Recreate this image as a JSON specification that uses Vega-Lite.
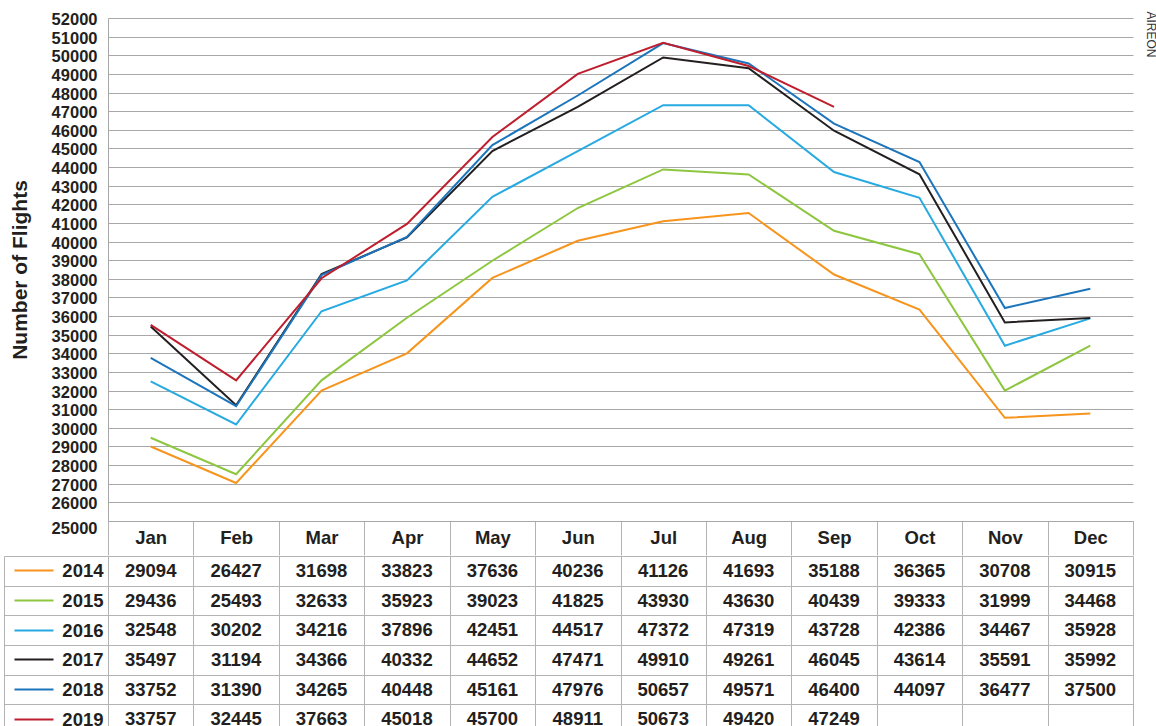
{
  "$schema": "https://vega.github.io/schema/vega-lite/v6.json",
  "padding": {"left": 3, "top": 11, "right": 0, "bottom": 0},
  "spacing": -10,
  "config": {"view": {"stroke": null}, "font": "Liberation Sans"},
  "datasets": {
    "flights": [
      {"year": "2014", "month": "Jan", "flights": 29094, "plotted": 29000},
      {"year": "2014", "month": "Feb", "flights": 26427, "plotted": 27040},
      {"year": "2014", "month": "Mar", "flights": 31698, "plotted": 32000},
      {"year": "2014", "month": "Apr", "flights": 33823, "plotted": 34000},
      {"year": "2014", "month": "May", "flights": 37636, "plotted": 38050},
      {"year": "2014", "month": "Jun", "flights": 40236, "plotted": 40040},
      {"year": "2014", "month": "Jul", "flights": 41126, "plotted": 41090},
      {"year": "2014", "month": "Aug", "flights": 41693, "plotted": 41530},
      {"year": "2014", "month": "Sep", "flights": 35188, "plotted": 38230},
      {"year": "2014", "month": "Oct", "flights": 36365, "plotted": 36350},
      {"year": "2014", "month": "Nov", "flights": 30708, "plotted": 30540},
      {"year": "2014", "month": "Dec", "flights": 30915, "plotted": 30770},
      {"year": "2015", "month": "Jan", "flights": 29436, "plotted": 29470},
      {"year": "2015", "month": "Feb", "flights": 25493, "plotted": 27510},
      {"year": "2015", "month": "Mar", "flights": 32633, "plotted": 32550},
      {"year": "2015", "month": "Apr", "flights": 35923, "plotted": 35910},
      {"year": "2015", "month": "May", "flights": 39023, "plotted": 38970},
      {"year": "2015", "month": "Jun", "flights": 41825, "plotted": 41800},
      {"year": "2015", "month": "Jul", "flights": 43930, "plotted": 43870},
      {"year": "2015", "month": "Aug", "flights": 43630, "plotted": 43600},
      {"year": "2015", "month": "Sep", "flights": 40439, "plotted": 40580},
      {"year": "2015", "month": "Oct", "flights": 39333, "plotted": 39320},
      {"year": "2015", "month": "Nov", "flights": 31999, "plotted": 32000},
      {"year": "2015", "month": "Dec", "flights": 34468, "plotted": 34410},
      {"year": "2016", "month": "Jan", "flights": 32548, "plotted": 32490},
      {"year": "2016", "month": "Feb", "flights": 30202, "plotted": 30180},
      {"year": "2016", "month": "Mar", "flights": 34216, "plotted": 36260},
      {"year": "2016", "month": "Apr", "flights": 37896, "plotted": 37910},
      {"year": "2016", "month": "May", "flights": 42451, "plotted": 42400},
      {"year": "2016", "month": "Jun", "flights": 44517, "plotted": 44850},
      {"year": "2016", "month": "Jul", "flights": 47372, "plotted": 47320},
      {"year": "2016", "month": "Aug", "flights": 47319, "plotted": 47320},
      {"year": "2016", "month": "Sep", "flights": 43728, "plotted": 43730},
      {"year": "2016", "month": "Oct", "flights": 42386, "plotted": 42350},
      {"year": "2016", "month": "Nov", "flights": 34467, "plotted": 34410},
      {"year": "2016", "month": "Dec", "flights": 35928, "plotted": 35875},
      {"year": "2017", "month": "Jan", "flights": 35497, "plotted": 35440},
      {"year": "2017", "month": "Feb", "flights": 31194, "plotted": 31210},
      {"year": "2017", "month": "Mar", "flights": 34366, "plotted": 38260},
      {"year": "2017", "month": "Apr", "flights": 40332, "plotted": 40220},
      {"year": "2017", "month": "May", "flights": 44652, "plotted": 44860},
      {"year": "2017", "month": "Jun", "flights": 47471, "plotted": 47230},
      {"year": "2017", "month": "Jul", "flights": 49910, "plotted": 49880},
      {"year": "2017", "month": "Aug", "flights": 49261, "plotted": 49300},
      {"year": "2017", "month": "Sep", "flights": 46045, "plotted": 45950},
      {"year": "2017", "month": "Oct", "flights": 43614, "plotted": 43610},
      {"year": "2017", "month": "Nov", "flights": 35591, "plotted": 35660},
      {"year": "2017", "month": "Dec", "flights": 35992, "plotted": 35890},
      {"year": "2018", "month": "Jan", "flights": 33752, "plotted": 33750},
      {"year": "2018", "month": "Feb", "flights": 31390, "plotted": 31160},
      {"year": "2018", "month": "Mar", "flights": 34265, "plotted": 38200},
      {"year": "2018", "month": "Apr", "flights": 40448, "plotted": 40250},
      {"year": "2018", "month": "May", "flights": 45161, "plotted": 45180},
      {"year": "2018", "month": "Jun", "flights": 47976, "plotted": 47840},
      {"year": "2018", "month": "Jul", "flights": 50657, "plotted": 50650},
      {"year": "2018", "month": "Aug", "flights": 49571, "plotted": 49560},
      {"year": "2018", "month": "Sep", "flights": 46400, "plotted": 46330},
      {"year": "2018", "month": "Oct", "flights": 44097, "plotted": 44270},
      {"year": "2018", "month": "Nov", "flights": 36477, "plotted": 36430},
      {"year": "2018", "month": "Dec", "flights": 37500, "plotted": 37470},
      {"year": "2019", "month": "Jan", "flights": 33757, "plotted": 35530},
      {"year": "2019", "month": "Feb", "flights": 32445, "plotted": 32550},
      {"year": "2019", "month": "Mar", "flights": 37663, "plotted": 38030},
      {"year": "2019", "month": "Apr", "flights": 45018, "plotted": 40950},
      {"year": "2019", "month": "May", "flights": 45700, "plotted": 45610},
      {"year": "2019", "month": "Jun", "flights": 48911, "plotted": 49000},
      {"year": "2019", "month": "Jul", "flights": 50673, "plotted": 50670},
      {"year": "2019", "month": "Aug", "flights": 49420, "plotted": 49420},
      {"year": "2019", "month": "Sep", "flights": 47249, "plotted": 47230}
    ]
  },
  "vconcat": [
    {
      "width": 1025,
      "height": 503,
      "data": {"name": "flights"},
      "title": {"text": "AIREON", "orient": "right", "anchor": "start", "fontSize": 12, "fontWeight": "normal", "font": "Liberation Sans", "color": "#333333", "offset": 10},
      "mark": {"type": "line", "strokeWidth": 2},
      "encoding": {
        "x": {
          "field": "month", "type": "nominal",
          "scale": {"type": "band", "domain": ["Jan","Feb","Mar","Apr","May","Jun","Jul","Aug","Sep","Oct","Nov","Dec"], "paddingInner": 0, "paddingOuter": 0},
          "axis": {"orient": "bottom", "title": null, "domain": true, "domainColor": "#a8a8a8", "grid": false, "ticks": true, "tickBand": "extent", "tickSize": 34, "tickColor": "#b3b3b3", "labelFontSize": 18.5, "labelFontWeight": "bold", "labelColor": "#231f20", "labelPadding": -27, "labelBaseline": "top", "labelAngle": 0}
        },
        "y": {
          "field": "plotted", "type": "quantitative",
          "scale": {"domain": [25000, 52000], "nice": false, "zero": false},
          "axis": {
            "title": "Number of Flights", "titleFontSize": 21, "titleFontWeight": "bold", "titleColor": "#231f20", "titleX": -82, "titleBaseline": "alphabetic",
            "values": [25000,26000,27000,28000,29000,30000,31000,32000,33000,34000,35000,36000,37000,38000,39000,40000,41000,42000,43000,44000,45000,46000,47000,48000,49000,50000,51000,52000],
            "format": "d", "grid": true, "gridColor": "#a8a8a8", "gridWidth": 1, "domain": true, "domainColor": "#a8a8a8",
            "ticks": false, "tickSize": 0, "labelPadding": 11, "labelFontSize": 16.5, "labelFontWeight": "bold", "labelColor": "#231f20",
            "labelOverlap": false, "labelFlush": false,
            "labelOffset": {"condition": {"test": "datum.value == 25000", "value": 7}, "value": 1.5}
          }
        },
        "color": {
          "field": "year", "type": "nominal",
          "scale": {"domain": ["2014","2015","2016","2017","2018","2019"], "range": ["#f7941d","#8dc63f","#27aae1","#231f20","#1c75bc","#be1e2d"]},
          "legend": null
        }
      }
    },
    {
      "width": 1025,
      "height": 178,
      "data": {"name": "flights"},
      "encoding": {
        "x": {
          "field": "month", "type": "nominal",
          "scale": {"type": "band", "domain": ["Jan","Feb","Mar","Apr","May","Jun","Jul","Aug","Sep","Oct","Nov","Dec"], "paddingInner": 0, "paddingOuter": 0},
          "axis": {"orient": "bottom", "title": null, "labels": false, "ticks": false, "domain": false, "grid": true, "tickBand": "extent", "gridColor": "#b3b3b3"}
        }
      },
      "layer": [
        {
          "mark": {"type": "text", "fontSize": 18.5, "fontWeight": "bold", "color": "#231f20"},
          "encoding": {
            "text": {"field": "flights", "type": "quantitative", "format": "d"},
            "y": {
              "field": "year", "type": "nominal",
              "scale": {"type": "band", "domain": ["2014","2015","2016","2017","2018","2019"], "paddingInner": 0, "paddingOuter": 0},
              "axis": {"orient": "left", "title": null, "domain": false, "grid": true, "gridColor": "#b3b3b3", "tickBand": "extent", "ticks": true, "tickSize": 104, "tickColor": "#b3b3b3", "labelPadding": -99, "labelFontSize": 18.5, "labelFontWeight": "bold", "labelColor": "#231f20", "labelAlign": "right"}
            }
          }
        },
        {
          "mark": {"type": "text", "opacity": 0},
          "encoding": {
            "text": {"field": "flights", "type": "quantitative", "format": "d"},
            "y": {
              "field": "year", "type": "nominal",
              "axis": {"orient": "left", "offset": 55, "title": null, "domain": false, "grid": false, "labels": false, "ticks": true, "tickBand": "center", "tickSize": 39, "tickWidth": 2,
                "tickColor": {"condition": [
                  {"test": "datum.value == '2014'", "value": "#f7941d"},
                  {"test": "datum.value == '2015'", "value": "#8dc63f"},
                  {"test": "datum.value == '2016'", "value": "#27aae1"},
                  {"test": "datum.value == '2017'", "value": "#231f20"},
                  {"test": "datum.value == '2018'", "value": "#1c75bc"}
                ], "value": "#be1e2d"}
              }
            }
          }
        },
        {
          "mark": {"type": "text", "opacity": 0},
          "encoding": {
            "text": {"field": "flights", "type": "quantitative", "format": "d"},
            "y": {
              "field": "year", "type": "nominal",
              "axis": {"orient": "left", "offset": 104, "title": null, "domain": true, "domainColor": "#b3b3b3", "grid": false, "labels": false, "ticks": false}
            }
          }
        }
      ],
      "resolve": {"axis": {"y": "independent"}}
    }
  ]
}
